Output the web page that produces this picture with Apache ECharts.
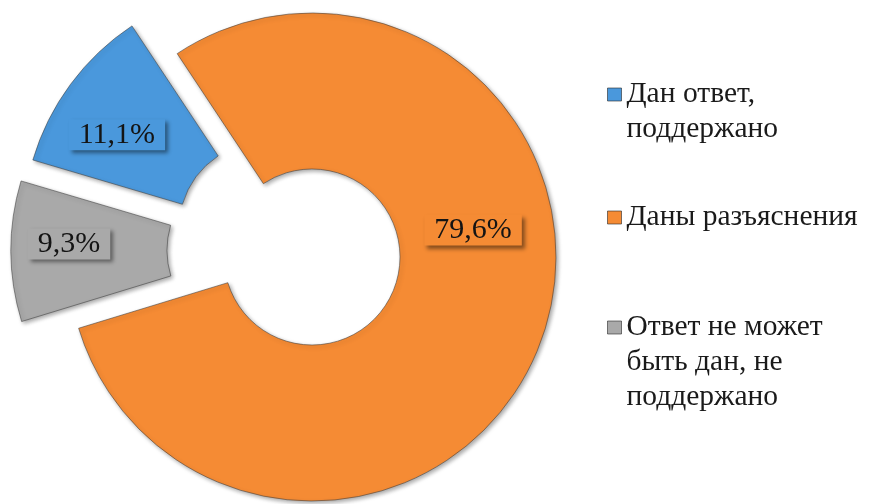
<!DOCTYPE html>
<html>
<head>
<meta charset="utf-8">
<script src="https://cdn.jsdelivr.net/npm/echarts@6/dist/echarts.min.js"></script>
<style>
  html, body { margin: 0; padding: 0; background: #fff; }
  #container { width: 874px; height: 504px; }
</style>
</head>
<body>
<div id="container"></div>
<script>
// данные диаграммы
var categories = ['Дан ответ, поддержано', 'Даны разъяснения', 'Ответ не может быть дан, не поддержано'];
var values = [11.1, 79.6, 9.3];
var exploded = [true, false, true];
// подписи легенды с переносами (пустые строки сверху — чтобы значок стоял у первой строки)
var legendLabels = ['\nДан ответ,\nподдержано', 'Даны разъяснения', '\n\nОтвет не может\nбыть дан, не\nподдержано'];

var colors = ['#4a98dc', '#f58b34', '#a9a9a9'];
var baseCenter = [312, 257];
// у каждого сектора свой слой: вынос и небольшая поправка центра
var explodeDist = [50, 0, 58];
var centerNudge = [[-5, 2], [0, 0], [1, -7]];
var legendTops = [42, 200, 240];
var labelShift = [[-14, 6], [2, -84], [-17, -7]];

function fmtPct(v) {
    return v.toFixed(1).replace('.', ',') + '%';
}

function graficoDona() {
    var dom = document.getElementById('container');
    var myChart = echarts.init(dom);
    var option;

    // один слой на категорию; остальные секторы слоя прозрачны, но держат углы
    var layers = categories.map(function (cat, k) {
        var data = categories.map(function (name, i) {
            var own = i === k;
            return {
                name: name,
                value: values[i],
                selected: own && exploded[i],
                itemStyle: own ? { color: colors[i] } : {
                    color: 'rgba(0,0,0,0)', borderWidth: 0, shadowBlur: 0,
                    shadowOffsetX: 0, shadowOffsetY: 0, shadowColor: 'rgba(0,0,0,0)'
                },
                label: own ? { show: true, backgroundColor: colors[i] } : { show: false }
            };
        });
        return {
            type: 'pie',
            name: cat,
            center: [baseCenter[0] + centerNudge[k][0], baseCenter[1] + centerNudge[k][1]],
            radius: [88, 244],
            startAngle: 163.5,
            clockwise: true,
            selectedMode: 'multiple',
            selectedOffset: explodeDist[k],
            avoidLabelOverlap: false,
            silent: true,
            z: 2 + k,
            itemStyle: {
                borderColor: 'rgba(60,60,60,0.55)',
                borderWidth: 1,
                shadowColor: 'rgba(0,0,0,0.35)',
                shadowBlur: 4,
                shadowOffsetX: 2,
                shadowOffsetY: 2
            },
            label: {
                position: 'inside',
                formatter: function (p) { return fmtPct(p.value); },
                fontFamily: 'Liberation Serif',
                fontSize: 30,
                color: '#141414',
                padding: [1, 10, 0, 10],
                shadowColor: 'rgba(0,0,0,0.45)',
                shadowBlur: 4,
                shadowOffsetX: 3,
                shadowOffsetY: 3
            },
            labelLayout: function (params) {
                var s = labelShift[params.dataIndex];
                return { dx: s[0], dy: s[1] };
            },
            emphasis: { disabled: true },
            select: { itemStyle: {} },
            data: data
        };
    });

    var legends = categories.map(function (name, i) {
        return {
            data: [name],
            orient: 'vertical',
            left: 607,
            top: legendTops[i],
            padding: 0,
            itemWidth: 14,
            itemHeight: 13,
            itemGap: 0,
            selectedMode: false,
            icon: 'rect',
            itemStyle: {
                color: colors[i],
                borderColor: 'rgba(40,40,40,0.6)',
                borderWidth: 1
            },
            formatter: function (n) {
                return legendLabels[categories.indexOf(n)];
            },
            textStyle: {
                fontFamily: 'Liberation Serif',
                fontSize: 29.5,
                lineHeight: 35,
                color: '#1a1a1a'
            }
        };
    });

    option = {
        animation: false,
        legend: legends,
        series: layers
    };

    if (option && typeof option === 'object') {
        myChart.setOption(option);
    }
}
graficoDona();
</script>
</body>
</html>
